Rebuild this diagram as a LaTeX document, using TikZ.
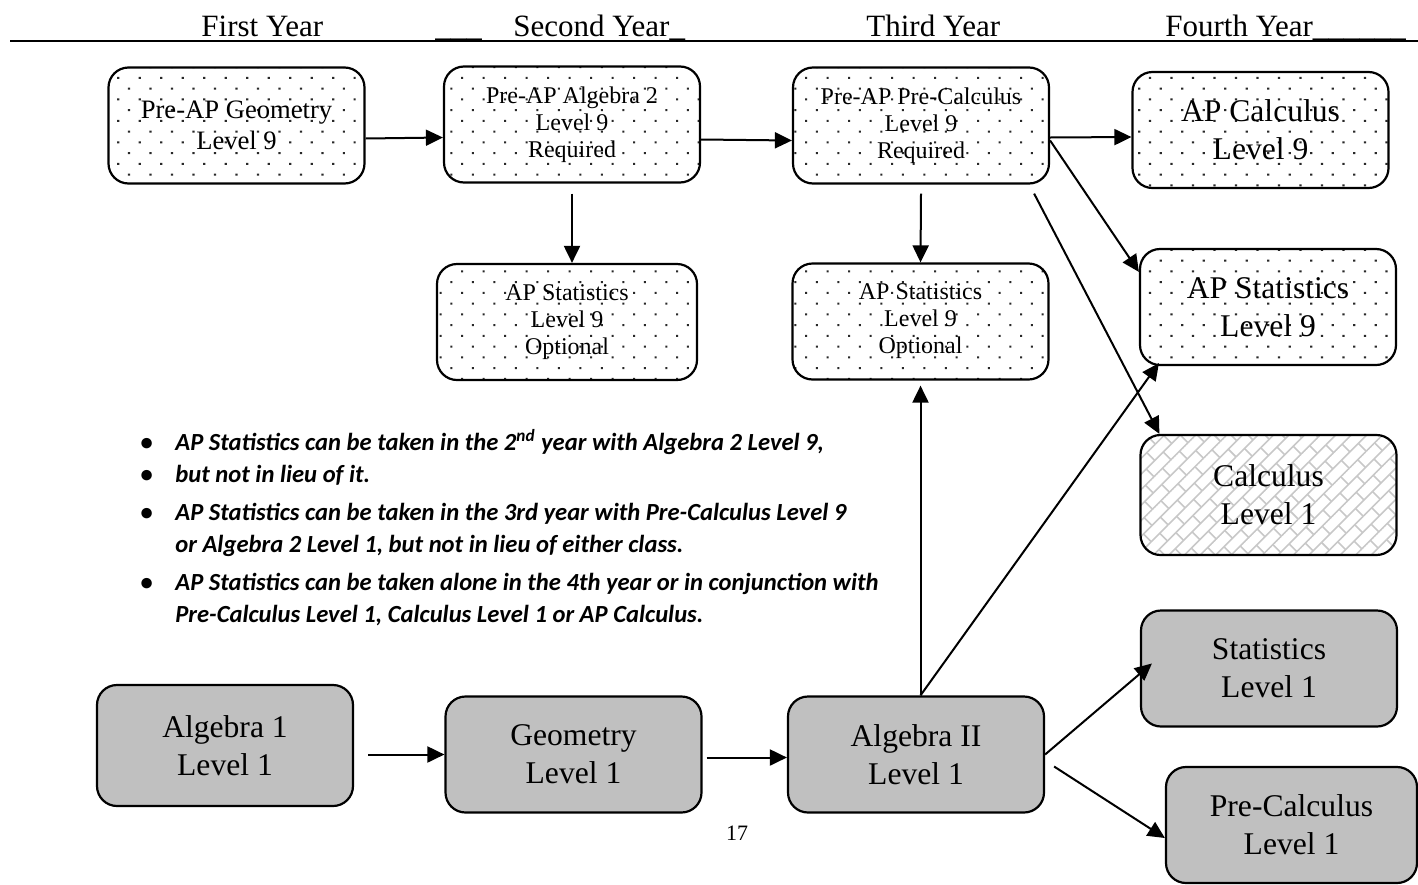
\documentclass[tikz,border=0pt]{standalone}
\usepackage{fontspec}
\setmainfont{Liberation Serif}
\newfontfamily\notefont{Carlito}[BoldItalicFont={Carlito Bold Italic}]
\usetikzlibrary{arrows.meta, patterns.meta, positioning}

\definecolor{boxgray}{RGB}{192,192,192}
\definecolor{dotgray}{RGB}{40,40,40}
\definecolor{brickgray}{RGB}{200,200,200}

% brick hatching for the Calculus Level 1 box
\tikzdeclarepattern{
  name=diagbrick,
  type=uncolored,
  bounding box={(-0.5pt,-0.5pt) and (12.5pt,11.5pt)},
  tile size={(12pt,11pt)},
  tile transformation={rotate=45},
  code={
    \pgfsetlinewidth{0.8pt}
    \draw (0pt,0pt) -- (12pt,0pt);
    \draw (0pt,5.5pt) -- (12pt,5.5pt);
    \draw (0pt,0pt) -- (0pt,5.5pt);
    \draw (6pt,5.5pt) -- (6pt,11pt);
  }
}

\tikzset{
  course/.style={draw, line width=1.1pt, rounded corners=10pt, align=center,
    inner sep=0pt, minimum width=128pt, minimum height=58pt},
  honors/.style={course, pattern={Dots[distance=7.6pt, radius=0.75pt, angle=45]},
    pattern color=dotgray, font=\fontsize{12}{13.5}\selectfont},
  regular/.style={course, fill=boxgray, font=\fontsize{15.8}{19}\selectfont},
  bigtext/.style={font=\fontsize{15.8}{19}\selectfont},
  arr/.style={-{Triangle[length=8.5pt,width=8pt]}, line width=1pt},
  yearlabel/.style={anchor=base west, inner sep=0pt, font=\fontsize{15.5}{18}\selectfont},
  note/.style={anchor=base west, inner sep=0pt, font=\notefont\bfseries\itshape\fontsize{12.3}{16}\selectfont},
}

\begin{document}
\begin{tikzpicture}[x=0.5pt, y=-0.5pt]
  \useasboundingbox (0,0) rectangle (1418,884);

  % year headings
  \node (yr1) [yearlabel] at (201,36) {First Year};
  \node (gap1) [yearlabel] at (435,36) {\_\_\_};
  \node (yr2) [yearlabel] at (513,36) {Second Year\_};
  \node (yr3) [yearlabel] at (866,36) {Third Year};
  \node (yr4) [yearlabel] at (1165,36) {Fourth Year\_\_\_\_\_\_};
  \coordinate (ruleL) at (10,41);
  \coordinate (ruleR) at (1418,41);
  \draw [line width=1.4pt] (ruleL) -- (ruleR);

  % level 9 track
  \node (pgeo) [honors, font=\fontsize{13.3}{15.5}\selectfont] at (236.5,125.5) {Pre-AP Geometry\\Level 9};
  \node (palg2) [honors] at (572,124.5) {Pre-AP Algebra 2\\Level 9\\Required};
  \node (pprecalc) [honors] at (921,125.5) {Pre-AP Pre-Calculus\\Level 9\\Required};
  \node (apcalc) [honors, bigtext] at (1260.5,130) {AP Calculus\\Level 9};
  \node (apstat2) [honors, minimum width=130pt] at (567,322) {AP Statistics\\Level 9\\Optional};
  \node (apstat3) [honors] at (920.5,321.5) {AP Statistics\\Level 9\\Optional};
  \node (apstat4) [honors, bigtext] at (1268,307) {AP Statistics\\Level 9};
  \node (calc1) [course, pattern=diagbrick, pattern color=brickgray, bigtext, minimum height=60pt] at (1268.5,495) {Calculus\\Level 1};

  % level 1 track
  \node (alg1) [regular, minimum height=60.5pt] at (225,745.5) {Algebra 1\\Level 1};
  \node (geom1) [regular] at (573.5,754.5) {Geometry\\Level 1};
  \node (alg2l1) [regular] at (916,754.5) {Algebra II\\Level 1};
  \node (stat1) [regular] at (1269,668.5) {Statistics\\Level 1};
  \node (precalc1) [regular, minimum width=125.5pt] at (1291.5,825) {Pre-Calculus\\Level 1};

  % notes
  \node (b1) [note] at (140,450) {\textbullet};
  \node (n1) [note] at (175,450) {AP Statistics can be taken in the 2\textsuperscript{nd} year with Algebra 2 Level 9,};
  \node (b2) [note] at (140,482) {\textbullet};
  \node (n2) [note] at (175,482) {but not in lieu of it.};
  \node (b3) [note] at (140,520) {\textbullet};
  \node (n3) [note] at (175,520) {AP Statistics can be taken in the 3rd year with Pre-Calculus Level 9};
  \node (n3b) [note] at (175,552) {or Algebra 2 Level 1, but not in lieu of either class.};
  \node (b4) [note] at (140,590) {\textbullet};
  \node (n4) [note] at (175,590) {AP Statistics can be taken alone in the 4th year or in conjunction with};
  \node (n4b) [note] at (175,622) {Pre-Calculus Level 1, Calculus Level 1 or AP Calculus.};

  \node (pagenum) [font=\fontsize{11}{13}\selectfont] at (737,833) {17};

  \path [arr]
    ([yshift=-6.5pt]pgeo.east) edge ([yshift=-6.5pt]palg2.west)
    ([yshift=-7.5pt]palg2.east) edge ([yshift=-7.5pt]pprecalc.west)
    ([yshift=-6pt]pprecalc.east) edge ([yshift=-3.5pt]apcalc.west)
    ([yshift=-7.5pt]pprecalc.east) edge ([yshift=-12pt]apstat4.north west)
    ([xshift=-8pt,yshift=-4.5pt]pprecalc.south east) edge ([xshift=10pt]calc1.north west)
    ([yshift=-5pt]palg2.south) edge (palg2.south |- apstat2.north)
    ([yshift=-4.5pt]pprecalc.south) edge (apstat3.north)
    (apstat3.south |- alg2l1.north) edge ([yshift=-2.5pt]apstat3.south)
    (apstat3.south |- alg2l1.north) edge ([xshift=10pt,yshift=1.5pt]apstat4.south west)
    (alg2l1.east) edge ([xshift=6pt,yshift=2.5pt]stat1.west)
    ([xshift=4.5pt,yshift=-6pt]alg2l1.east) edge ([yshift=-6.5pt]precalc1.west)
    ([xshift=7pt,yshift=-4.5pt]alg1.east) edge (geom1.west)
    ([xshift=2pt,yshift=-1.5pt]geom1.east) edge ([yshift=-1.5pt]alg2l1.west);
\end{tikzpicture}
\end{document}
